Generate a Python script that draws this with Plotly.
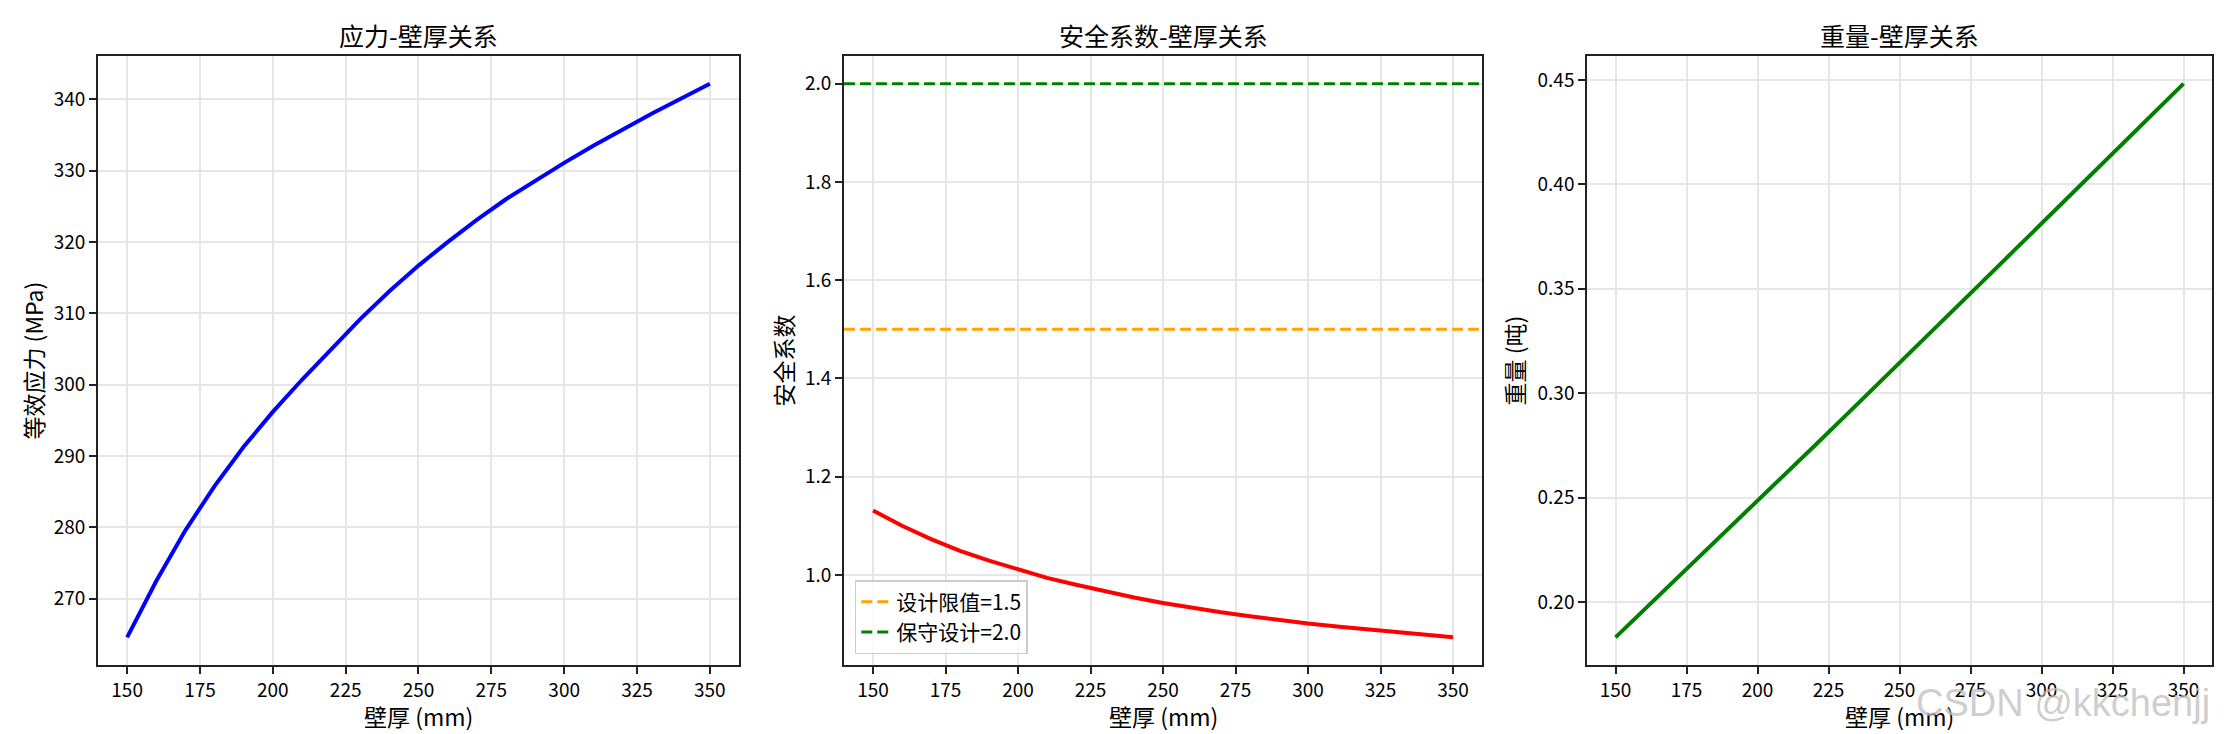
import plotly.graph_objects as go

# wall thickness (mm)
thickness = [150, 160, 170, 180, 190, 200, 210, 220, 230, 240, 250,
             260, 270, 280, 290, 300, 310, 320, 330, 340, 350]

# equivalent stress (MPa)
stress = [264.6, 272.5, 279.6, 285.8, 291.3, 296.2, 300.7, 305.0, 309.2, 313.1, 316.7,
          320.0, 323.1, 326.0, 328.6, 331.1, 333.5, 335.8, 338.0, 340.1, 342.2]

# safety factor
safety = [1.131, 1.100, 1.073, 1.049, 1.029, 1.011, 0.994, 0.980, 0.966, 0.954, 0.943,
          0.933, 0.924, 0.916, 0.908, 0.901, 0.895, 0.889, 0.883, 0.878, 0.873]

# weight (t)
weight = [0.1832, 0.1962, 0.2092, 0.2223, 0.2354, 0.2485, 0.2616, 0.2748, 0.2880, 0.3012, 0.3145,
          0.3278, 0.3411, 0.3545, 0.3679, 0.3813, 0.3947, 0.4081, 0.4215, 0.4349, 0.4482]

design_limit = 1.5
conservative = 2.0

titles = ['应力-壁厚关系', '安全系数-壁厚关系', '重量-壁厚关系']
ylabels = ['等效应力 (MPa)', '安全系数', '重量 (吨)']
xlabel = '壁厚 (mm)'
x_ticks = [150, 175, 200, 225, 250, 275, 300, 325, 350]

FONT = 'Noto Sans CJK SC'


def pad(lo, hi, m=0.05):
    d = (hi - lo) * m
    return [lo - d, hi + d]


fig = go.Figure()
fig.add_trace(go.Scatter(x=thickness, y=stress, mode='lines', xaxis='x', yaxis='y',
                         line=dict(color='blue', width=4), showlegend=False))
fig.add_trace(go.Scatter(x=thickness, y=safety, mode='lines', xaxis='x2', yaxis='y2',
                         line=dict(color='red', width=4), showlegend=False))
fig.add_trace(go.Scatter(x=thickness, y=weight, mode='lines', xaxis='x3', yaxis='y3',
                         line=dict(color='green', width=4), showlegend=False))

fig.add_shape(type='line', xref='x2 domain', yref='y2', x0=0, x1=1,
              y0=design_limit, y1=design_limit,
              line=dict(color='orange', width=3, dash='11px,5px'),
              showlegend=True, name='设计限值=1.5')
fig.add_shape(type='line', xref='x2 domain', yref='y2', x0=0, x1=1,
              y0=conservative, y1=conservative,
              line=dict(color='green', width=3, dash='11px,5px'),
              showlegend=True, name='保守设计=2.0')

domains = [[0, 0.3032], [0.3529, 0.6547], [0.7044, 1.0]]
x_range = pad(thickness[0], thickness[-1])
y_ranges = [pad(min(stress), max(stress)),
            pad(min(safety), conservative),
            pad(min(weight), max(weight))]
y_fmt = ['d', '.1f', '.2f']
y_dtick = [10, 0.2, 0.05]

axis_common = dict(
    showline=True, linecolor='#222222', linewidth=1.7, mirror=True,
    ticks='outside', ticklen=7, tickwidth=1.7, tickcolor='#222222',
    showgrid=True, gridcolor='#e6e6e6', gridwidth=1.5,
    zeroline=False, automargin=False,
    tickfont=dict(family=FONT, size=19, color='black'),
)

layout = dict(
    width=2234, height=734,
    margin=dict(l=90, r=30, t=48, b=77),
    paper_bgcolor='white', plot_bgcolor='white',
    font=dict(family=FONT, color='black'),
    legend=dict(x=0.358, y=0.018, xanchor='left', yanchor='bottom',
                bgcolor='rgba(255,255,255,0.8)', bordercolor='#cccccc', borderwidth=1.5,
                font=dict(family=FONT, size=21), tracegroupgap=2),
)
for i in range(3):
    s = '' if i == 0 else str(i + 1)
    layout['xaxis' + s] = dict(axis_common, domain=domains[i], range=x_range,
                               tickvals=x_ticks, anchor='y' + s)
    layout['yaxis' + s] = dict(axis_common, domain=[0, 1], range=y_ranges[i],
                               dtick=y_dtick[i], tickformat=y_fmt[i], anchor='x' + s)
fig.update_layout(layout)

ylabel_x = [-0.0312, 0.3236, 0.6698]
annotations = []
for i in range(3):
    mid = (domains[i][0] + domains[i][1]) / 2
    annotations.append(dict(text=titles[i], x=mid, y=1.0345, xref='paper', yref='paper',
                            xanchor='center', yanchor='middle', showarrow=False,
                            font=dict(family=FONT, size=25)))
    annotations.append(dict(text=xlabel, x=mid, y=-0.0837, xref='paper', yref='paper',
                            xanchor='center', yanchor='middle', showarrow=False,
                            font=dict(family=FONT, size=23)))
    annotations.append(dict(text=ylabels[i], x=ylabel_x[i], y=0.5, xref='paper', yref='paper',
                            xanchor='center', yanchor='middle', textangle=-90, showarrow=False,
                            font=dict(family=FONT, size=23)))
annotations.append(dict(text='CSDN @kkchenjj', x=1.0, y=-0.062, xref='paper', yref='paper',
                        xanchor='right', yanchor='middle', showarrow=False,
                        font=dict(family='Liberation Sans', size=38, color='rgba(190,190,190,0.75)')))
fig.update_layout(annotations=annotations)

fig.write_html('out.html')
